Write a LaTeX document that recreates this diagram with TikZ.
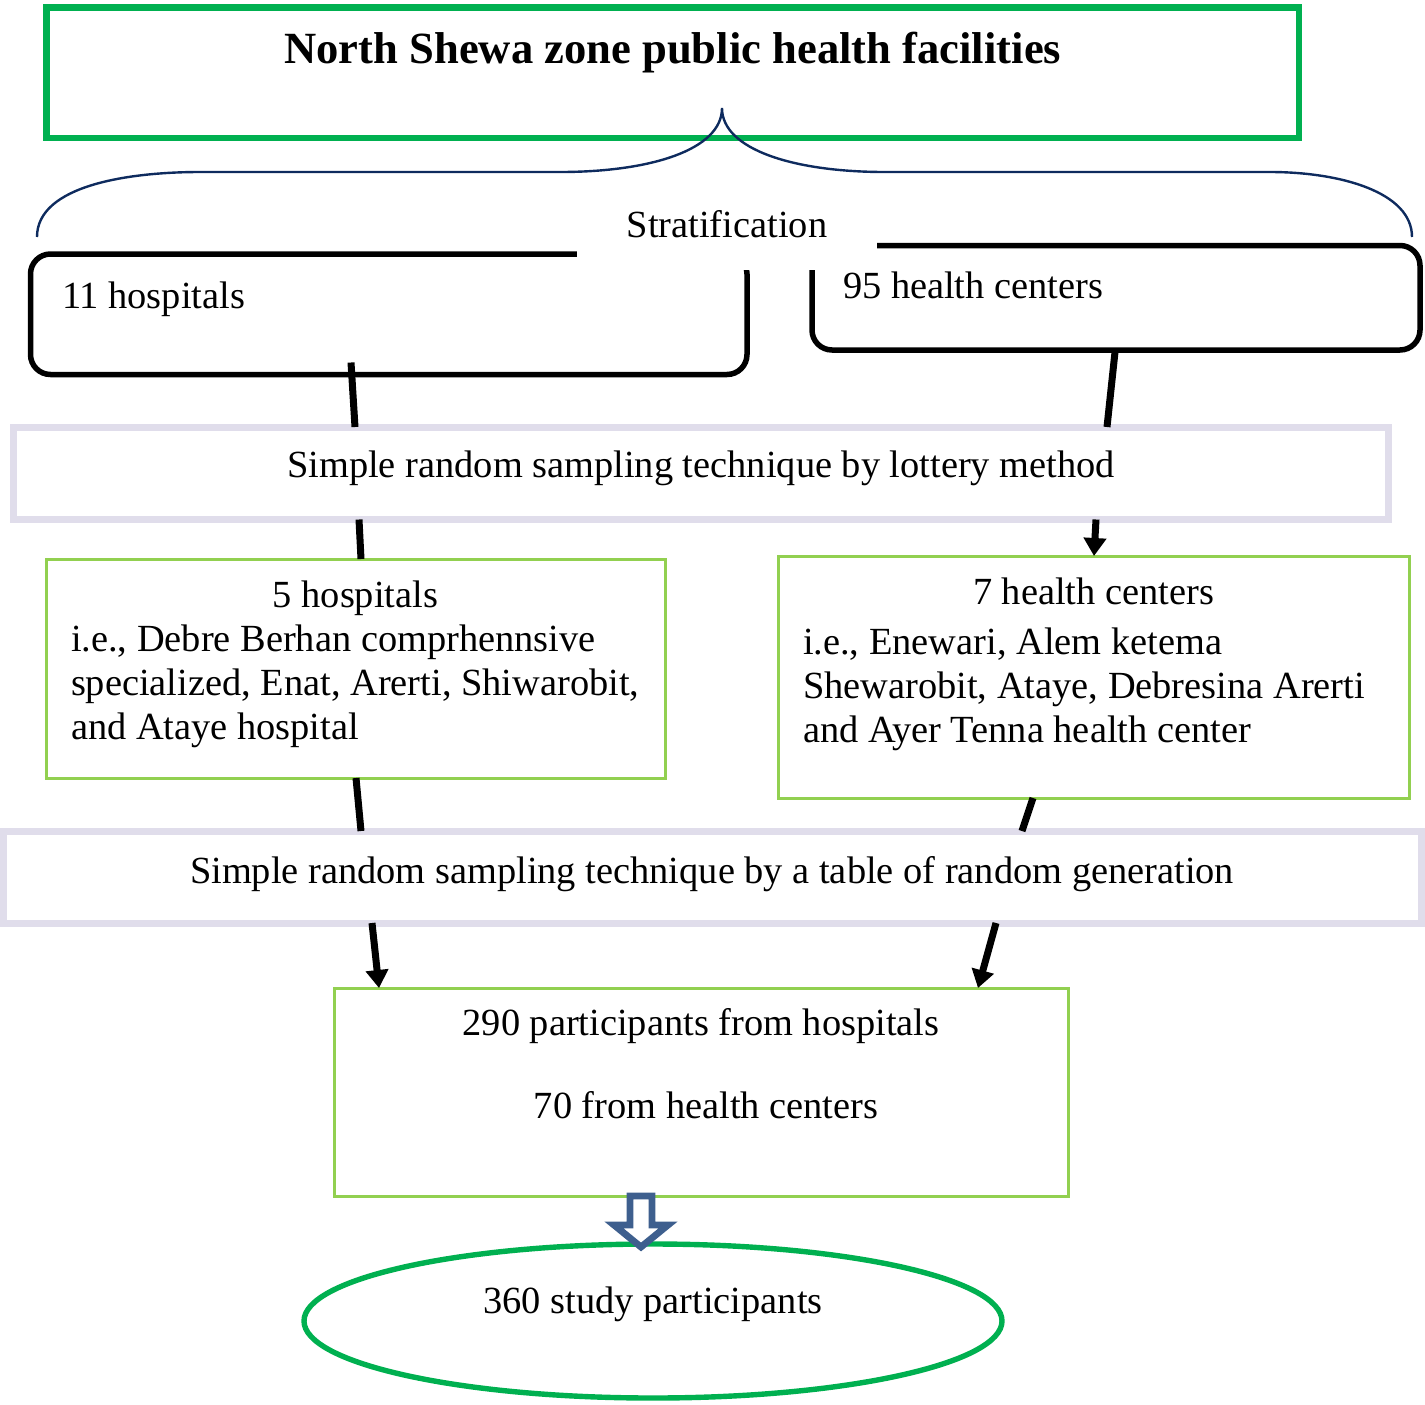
\documentclass[tikz,border=0pt]{standalone}
\usepackage{fontspec}
\setmainfont{Liberation Serif}
\usetikzlibrary{arrows.meta,shapes.geometric,calc}
\definecolor{titlegreen}{HTML}{00B050}
\definecolor{leafgreen}{HTML}{92D050}
\definecolor{lavender}{HTML}{E0DDEB}
\definecolor{bracenavy}{HTML}{0E2B5E}
\definecolor{arrowblue}{HTML}{3E5F8E}

\begin{document}
\begin{tikzpicture}[
	x=0.5pt,y=-0.5pt,
	every node/.style={outer sep=0pt,inner sep=0pt,font=\fontsize{19.2}{22}\selectfont},
	topbox/.style={rectangle,draw=titlegreen,line width=3.2pt,anchor=north west},
	groupbox/.style={rectangle,draw=black,line width=2.75pt,rounded corners=10pt,anchor=north west},
	methodbox/.style={rectangle,draw=lavender,line width=3.5pt,anchor=north west},
	samplebox/.style={rectangle,draw=leafgreen,line width=1.5pt,anchor=north west},
	brace/.style={draw=bracenavy,line width=1.2pt},
	link/.style={line width=3.5pt},
	flow/.style={line width=3.5pt,-{Triangle[length=9pt,width=11pt]}},
	hollowarrow/.style={draw=arrowblue,fill=white,line width=3.4pt}
]
	\useasboundingbox (0,0) rectangle (1425,1404);

	% top box and the brace
	\node[topbox,minimum width=626.25pt,minimum height=65.25pt] (zone) at (46.5,7.5) {};
	\node[anchor=base,font=\bfseries\fontsize{22.3}{26}\selectfont] (zonetxt) at (672.75,63) {North Shewa zone public health facilities};
	\draw[brace] (37,237) .. controls (37,185) and (130,172) .. (200,172) -- (560,172)
		.. controls (650,172) and (722,150) .. (722,108)
		.. controls (722,150) and (795,172) .. (885,172) -- (1270,172)
		.. controls (1340,172) and (1412,192) .. (1412,237);

	% strata
	\node[groupbox,minimum width=358.25pt,minimum height=60.25pt] (hosp) at (30.5,254) {};
	\node[groupbox,minimum width=304pt,minimum height=52.25pt] (hc) at (812,245.5) {};
	\node[anchor=base,fill=white,minimum width=150pt,text height=21pt,text depth=16.5pt] (strat) at (727,237) {Stratification};
	\node[anchor=base west] (hosptxt) at (62,308) {11 hospitals};
	\node[anchor=base west] (hctxt) at (843,298) {95 health centers};

	% first sampling step
	\node[methodbox,minimum width=687.25pt,minimum height=46.25pt] (lot) at (13.5,427) {};
	\node[anchor=base] (lottxt) at (701,477) {Simple random sampling technique by lottery method};

	\node[samplebox,minimum width=309.5pt,minimum height=109.5pt] (five) at (46,559) {};
	\node[anchor=base] (fivehead) at (355.5,607) {5 hospitals};
	\node[anchor=base west] (fivebody) at (71,651) {\parbox[t]{300pt}{\raggedright i.e., Debre Berhan comprhennsive\\specialized, Enat, Arerti, Shiwarobit,\\and Ataye hospital}};

	\node[samplebox,minimum width=315.5pt,minimum height=121pt] (seven) at (778,556) {};
	\node[anchor=base] (sevenhead) at (1093.5,604) {7 health centers};
	\node[anchor=base west] (sevenbody) at (803,654) {\parbox[t]{300pt}{\raggedright i.e., Enewari, Alem ketema\\Shewarobit, Ataye, Debresina Arerti\\and Ayer Tenna health center}};

	% second sampling step
	\node[methodbox,minimum width=709pt,minimum height=46pt] (table) at (3.5,831) {};
	\node[anchor=base] (tabletxt) at (712,883) {Simple random sampling technique by a table of random generation};

	\node[samplebox,minimum width=367pt,minimum height=104pt] (sum) at (334,988) {};
	\node[anchor=base] (sumtop) at (701,1035) {290 participants from hospitals};
	\node[anchor=base] (sumbot) at (706,1118) {70 from health centers};

	\node[ellipse,draw=titlegreen,line width=2.7pt,minimum width=349pt,minimum height=77pt] (res) at (653,1321) {};
	\node[anchor=base] (restxt) at (653,1313) {360 study participants};

	% connectors
	\draw[link] ($(hosp.south -| 351,0)+(0,-12)$) -- (lot.north -| 355,0);
	\draw[link] ($(hc.south -| 1115,0)+(0,2)$) -- (lot.north -| 1107,0);
	\draw[link] (lot.south -| 359,0) -- (five.north -| 361,0);
	\draw[flow] (lot.south -| 1096,0) -- (seven.north -| 1094,0);
	\draw[link] (five.south -| 356,0) -- (table.north -| 361,0);
	\draw[link] (seven.south -| 1033,0) -- (table.north -| 1022,0);
	\draw[flow] (table.south -| 372,0) -- (sum.north -| 379,0);
	\draw[flow] (table.south -| 996,0) -- (sum.north -| 978,0);
	\draw[hollowarrow] (sum.south -| 630,0) -- ++(22,0) -- ++(0,29) -- ++(16,0) -- ++(-27,22) -- ++(-27,-22) -- ++(16,0) -- cycle;
\end{tikzpicture}
\end{document}
